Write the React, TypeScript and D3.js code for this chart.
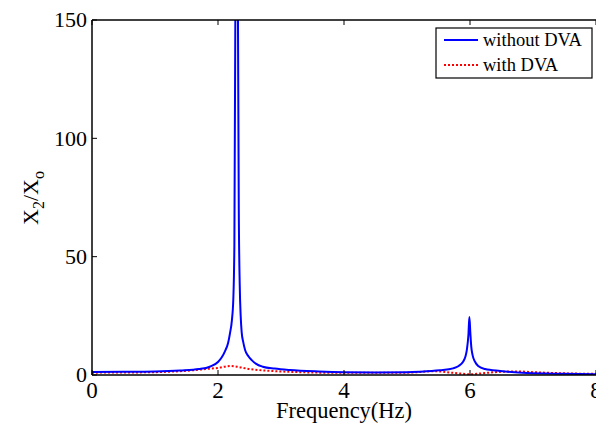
import React, { useEffect, useRef } from "react";
import * as d3 from "d3";

// frequency (Hz) and amplitude ratio
const freqWithout = [0, 0.5, 1.0, 1.4, 1.7, 1.87, 2.0, 2.06, 2.11, 2.16, 2.19, 2.22, 2.243, 2.26, 2.275, 2.296, 2.317, 2.33, 2.345, 2.36, 2.376, 2.4, 2.43, 2.48, 2.535, 2.6, 2.71, 2.9, 3.14, 3.6, 4.0, 4.5, 5.0, 5.2, 5.52, 5.73, 5.82, 5.89, 5.93, 5.95, 5.975, 5.99, 6.005, 6.02, 6.04, 6.08, 6.13, 6.24, 6.48, 6.9, 7.5, 8.0];
const ampWithout = [1.3, 1.35, 1.5, 1.9, 2.5, 3.5, 5.5, 7.5, 10, 13.5, 17.6, 23, 32, 55, 150, 400, 150, 70, 38, 25, 18, 14, 10.6, 8, 6.3, 4.8, 3.5, 2.7, 2.1, 1.5, 1.2, 1.1, 1.2, 1.4, 2.0, 2.8, 3.8, 5.6, 8, 10.6, 17, 24.5, 18, 12, 8.5, 5.6, 3.8, 2.5, 1.7, 0.8, 0.5, 0.35];

const freqWith = [0, 0.5, 1.0, 1.5, 1.8, 2.0, 2.19, 2.3, 2.5, 2.8, 3.3, 4.0, 4.5, 5.0, 5.44, 5.7, 5.85, 6.0, 6.15, 6.4, 6.75, 7.0, 7.5, 8.0];
const ampWith = [1.0, 1.05, 1.2, 1.8, 2.5, 3.0, 3.8, 3.5, 2.5, 1.8, 1.2, 0.9, 0.9, 1.0, 1.6, 1.0, 0.6, 0.3, 0.6, 1.2, 1.5, 1.2, 0.7, 0.5];

const xTicks = [0, 2, 4, 6, 8];
const yTicks = [0, 50, 100, 150];
const seriesNames = ["without DVA", "with DVA"];

const W = 596, H = 425;
const left = 92, right = 596, top = 20, bottom = 375;

export default function App() {
  const ref = useRef<SVGSVGElement>(null);

  useEffect(() => {
    const svg = d3.select(ref.current);
    svg.selectAll("*").remove();
    const font = "'Liberation Serif', 'Times New Roman', serif";

    const x = d3.scaleLinear().domain([0, 8]).range([left, right]);
    const y = d3.scaleLinear().domain([0, 150]).range([bottom, top]);

    svg.append("rect").attr("width", W).attr("height", H).attr("fill", "#fff");

    svg.append("defs").append("clipPath").attr("id", "plotclip")
      .append("rect").attr("x", left).attr("y", top)
      .attr("width", right - left).attr("height", bottom - top);

    const plot = svg.append("g").attr("clip-path", "url(#plotclip)");
    const line = d3.line<[number, number]>().x(d => x(d[0])).y(d => y(d[1])).curve(d3.curveMonotoneX);

    const blueData = freqWithout.map((f, i) => [f, ampWithout[i]] as [number, number]);
    const redData = freqWith.map((f, i) => [f, ampWith[i]] as [number, number]);

    plot.append("path").attr("d", line(redData)!)
      .attr("fill", "none").attr("stroke", "#ff0000")
      .attr("stroke-width", 2).attr("stroke-dasharray", "2,2");
    plot.append("path").attr("d", line(blueData)!)
      .attr("fill", "none").attr("stroke", "#0000ff")
      .attr("stroke-width", 2);

    // box
    const frame = svg.append("g").attr("stroke", "#000").attr("stroke-width", 1.5).attr("fill", "none");
    frame.append("line").attr("x1", left).attr("x2", right).attr("y1", bottom).attr("y2", bottom);
    frame.append("line").attr("x1", left).attr("x2", right).attr("y1", top).attr("y2", top);
    frame.append("line").attr("x1", left).attr("x2", left).attr("y1", top).attr("y2", bottom);

    // ticks
    xTicks.forEach(t => {
      frame.append("line").attr("x1", x(t)).attr("x2", x(t)).attr("y1", bottom).attr("y2", bottom - 5).attr("stroke-width", 1);
      frame.append("line").attr("x1", x(t)).attr("x2", x(t)).attr("y1", top).attr("y2", top + 5).attr("stroke-width", 1);
      svg.append("text").attr("x", x(t)).attr("y", 398)
        .attr("text-anchor", "middle").attr("font-family", font).attr("font-size", 23)
        .text(t);
    });
    yTicks.forEach(t => {
      frame.append("line").attr("x1", left).attr("x2", left + 5).attr("y1", y(t)).attr("y2", y(t)).attr("stroke-width", 1);
      svg.append("text").attr("x", 87).attr("y", y(t)).attr("dy", "0.33em")
        .attr("text-anchor", "end").attr("font-family", font).attr("font-size", 22)
        .text(t);
    });

    // axis labels
    svg.append("text").attr("x", 344).attr("y", 418)
      .attr("text-anchor", "middle").attr("font-family", font).attr("font-size", 22.5)
      .text("Frequency(Hz)");

    const yl = svg.append("text").attr("transform", "translate(38,198) rotate(-90)")
      .attr("text-anchor", "middle").attr("font-family", font).attr("font-size", 22);
    yl.append("tspan").text("X");
    yl.append("tspan").attr("dy", 6).attr("font-size", 16).text("2");
    yl.append("tspan").attr("dy", -6).text("/X");
    yl.append("tspan").attr("dy", 6).attr("font-size", 16).text("o");

    // legend
    const lg = svg.append("g");
    lg.append("rect").attr("x", 436).attr("y", 28).attr("width", 156).attr("height", 50)
      .attr("fill", "#fff").attr("stroke", "#000").attr("stroke-width", 1.2);
    const colors = ["#0000ff", "#ff0000"];
    seriesNames.forEach((name, i) => {
      const ly = 40 + i * 25;
      lg.append("line").attr("x1", 444).attr("x2", 478).attr("y1", ly).attr("y2", ly)
        .attr("stroke", colors[i]).attr("stroke-width", 2)
        .attr("stroke-dasharray", i === 1 ? "2,2" : null);
      lg.append("text").attr("x", 483).attr("y", ly).attr("dy", "0.33em")
        .attr("font-family", font).attr("font-size", 18.5).text(name);
    });
  }, []);

  return (
    <svg ref={ref} width={W} height={H}
      style={{ position: "absolute", left: 0, top: 0, display: "block" }} />
  );
}
